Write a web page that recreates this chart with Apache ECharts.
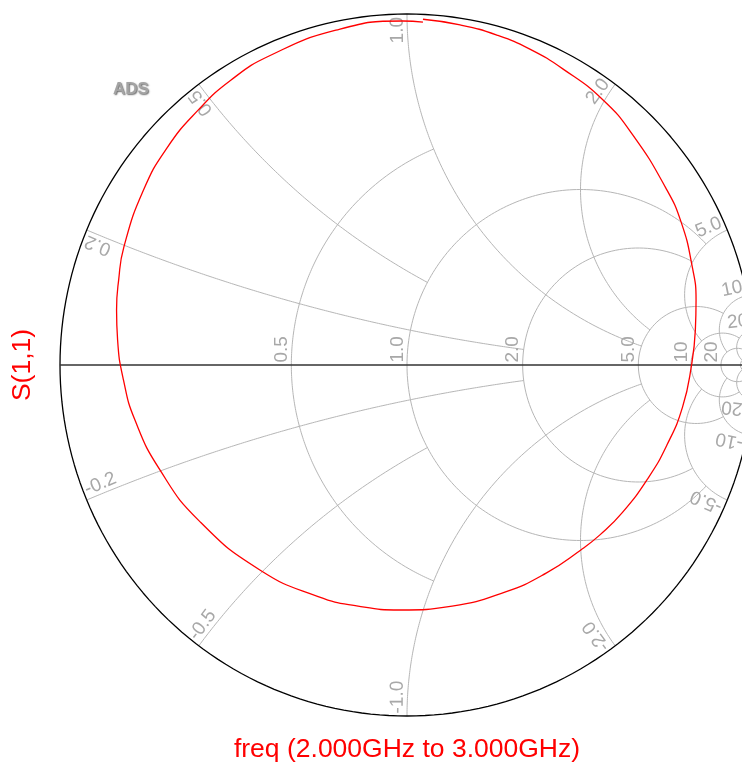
<!DOCTYPE html>
<html>
<head>
<meta charset="utf-8">
<script src="https://cdn.jsdelivr.net/npm/echarts@6/dist/echarts.min.js"></script>
<style>
  html, body { margin: 0; padding: 0; background: #ffffff; }
  #chart { width: 742px; height: 767px; }
</style>
</head>
<body>
<div id="chart"></div>
<script>
// S(1,1) trace as reflection coefficient (real / imaginary part), 2.000 GHz to 3.000 GHz
const s11Re = [0.046, 0.153, 0.259, 0.354, 0.450, 0.565, 0.651, 0.746, 0.790, 0.821,
               0.833, 0.831, 0.820, 0.794, 0.749, 0.695, 0.621, 0.556, 0.501, 0.401,
               0.282, 0.130, -0.020, -0.141, -0.256, -0.424, -0.599, -0.712, -0.784, -0.817,
               -0.834, -0.837, -0.831, -0.816, -0.760, -0.692, -0.602, -0.507, -0.396, -0.205,
               -0.012, 0.046];
const s11Im = [0.985, 0.969, 0.940, 0.900, 0.843, 0.755, 0.655, 0.504, 0.407, 0.285,
               0.185, 0.100, 0.000, -0.120, -0.228, -0.322, -0.420, -0.484, -0.527, -0.593,
               -0.647, -0.687, -0.698, -0.687, -0.660, -0.584, -0.444, -0.299, -0.157, -0.043,
               0.071, 0.157, 0.242, 0.336, 0.497, 0.618, 0.726, 0.812, 0.881, 0.954,
               0.980, 0.977];

// Smith chart grid: constant-resistance circles and constant-reactance arcs
const resistanceValues = [0.5, 1, 2, 5, 10, 20, 50];
const resistanceReach  = [1, 5, 5, 10, 20, 50, Infinity];   // |x| at which each circle stops
const resistanceLabels = ['0.5', '1.0', '2.0', '5.0', '10', '20'];
const reactanceValues  = [0.2, 0.5, 1, 2, 5, 10, 20];
const reactanceReach   = [2, 1, 5, 5, 10, 20, 50];          // r at which each arc stops
const reactanceLabels  = ['0.2', '0.5', '1.0', '2.0', '5.0', '10', '20'];

const xAxisTitle = 'freq (2.000GHz to 3.000GHz)';
const yAxisTitle = 'S(1,1)';

// normalised impedance r + jx  ->  reflection coefficient
function gamma(r, x) {
  const d = (r + 1) * (r + 1) + x * x;
  return [(r * r - 1 + x * x) / d, 2 * x / d];
}

function resistanceCircle(r, xLim) {
  const c = r / (1 + r), rho = 1 / (1 + r);
  let t0 = 0;
  if (isFinite(xLim)) {
    const g = gamma(r, xLim);
    t0 = Math.atan2(g[1], g[0] - c);
  }
  const pts = [], n = 240;
  for (let i = 0; i <= n; i++) {
    const t = t0 + (2 * Math.PI - 2 * t0) * i / n;
    pts.push([c + rho * Math.cos(t), rho * Math.sin(t)]);
  }
  return pts;
}

function reactanceArc(x, rLim) {
  const cy = 1 / x, rho = Math.abs(1 / x);
  const g0 = gamma(0, x), g1 = gamma(rLim, x);
  const a0 = Math.atan2(g0[1] - cy, g0[0] - 1);
  let da = Math.atan2(g1[1] - cy, g1[0] - 1) - a0;
  while (da > Math.PI) da -= 2 * Math.PI;
  while (da < -Math.PI) da += 2 * Math.PI;
  const pts = [], n = 200;
  for (let i = 0; i <= n; i++) {
    const a = a0 + da * i / n;
    pts.push([1 + rho * Math.cos(a), cy + rho * Math.sin(a)]);
  }
  return pts;
}

const gridColor = '#b6b6b6';
const labelColor = '#a8a8a8';
const series = [];

function addCurve(points, color, width, z) {
  series.push({
    type: 'line', data: points, symbol: 'none', silent: true, clip: false,
    lineStyle: { color: color, width: width }, z: z, animation: false
  });
}

resistanceValues.forEach((r, i) => addCurve(resistanceCircle(r, resistanceReach[i]), gridColor, 1, 1));
reactanceValues.forEach((x, i) => {
  addCurve(reactanceArc(x, reactanceReach[i]), gridColor, 1, 1);
  addCurve(reactanceArc(-x, reactanceReach[i]), gridColor, 1, 1);
});

// outer rim (r = 0) and the real axis
addCurve(resistanceCircle(0, Infinity), '#000000', 1.3, 2);
addCurve([[-1, 0], [1, 0]], '#333333', 1.5, 2);

// grid value labels
const chartLabels = [];
resistanceLabels.forEach((t, i) => {
  const r = resistanceValues[i], g = (r - 1) / (r + 1);
  chartLabels.push({ text: t, from: [g, 0], along: [g, 0.05], inward: false });
});
reactanceLabels.forEach((t, i) => {
  const x = reactanceValues[i];
  chartLabels.push({ text: t, from: gamma(0, x), along: gamma(0.01, x), inward: true });
  chartLabels.push({ text: '-' + t, from: gamma(0, -x), along: gamma(0.01, -x), inward: false });
});

series.push({
  type: 'custom',
  coordinateSystem: 'cartesian2d',
  silent: true,
  animation: false,
  z: 2,
  data: chartLabels.map(L => L.from),
  renderItem: function (params, api) {
    const L = chartLabels[params.dataIndex];
    const p0 = api.coord(L.from), p1 = api.coord(L.along);
    let vx = p1[0] - p0[0], vy = p1[1] - p0[1];
    const len = Math.hypot(vx, vy);
    vx /= len; vy /= len;
    const dx = L.inward ? -vx : vx, dy = L.inward ? -vy : vy;
    const gap = L.inward ? 3 : 2.5;
    return {
      type: 'text',
      x: p0[0] + gap * vx,
      y: p0[1] + gap * vy,
      rotation: Math.atan2(-dy, dx),
      style: {
        text: L.text,
        fill: labelColor,
        font: '19px "Liberation Sans", Arial, sans-serif',
        align: L.inward ? 'right' : 'left',
        verticalAlign: 'bottom'
      }
    };
  }
});

// measured trace
series.push({
  type: 'line',
  name: yAxisTitle,
  data: s11Re.map((v, i) => [v, s11Im[i]]),
  symbol: 'none',
  smooth: true,
  clip: false,
  silent: true,
  animation: false,
  lineStyle: { color: '#ff0000', width: 1.3 },
  z: 3
});

const chart = echarts.init(document.getElementById('chart'), null, { renderer: 'canvas' });
chart.setOption({
  backgroundColor: '#ffffff',
  animation: false,
  // the chart's right edge runs past the page, so the x range stops short of +1
  grid: { left: 60, right: 0, top: 14, height: 702 },
  xAxis: { type: 'value', min: -1, max: 0.9654, show: false },
  yAxis: { type: 'value', min: -1, max: 1, show: false },
  graphic: [
    {
      type: 'text', x: 131, y: 89,
      style: {
        text: 'ADS', fill: '#a4a4a4',
        font: 'bold 17px "Liberation Sans", Arial, sans-serif',
        align: 'center', verticalAlign: 'middle',
        textShadowColor: 'rgba(60,60,60,0.75)', textShadowBlur: 1.5,
        textShadowOffsetX: 1, textShadowOffsetY: 1
      }
    },
    {
      type: 'text', x: 23, y: 365, rotation: Math.PI / 2,
      style: {
        text: yAxisTitle, fill: '#ff0000',
        font: '26.5px "Liberation Sans", Arial, sans-serif',
        align: 'center', verticalAlign: 'middle'
      }
    },
    {
      type: 'text', x: 407, y: 750,
      style: {
        text: xAxisTitle, fill: '#ff0000',
        font: '26.5px "Liberation Sans", Arial, sans-serif',
        align: 'center', verticalAlign: 'middle'
      }
    }
  ],
  series: series
});
</script>
</body>
</html>
